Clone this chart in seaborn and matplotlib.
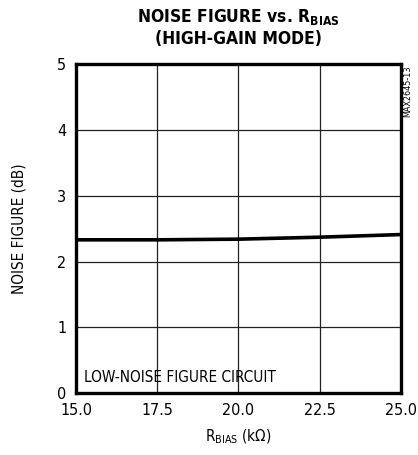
import matplotlib
matplotlib.use("Agg")
import matplotlib.pyplot as plt
import seaborn as sns
import pandas as pd

# Noise figure vs. bias resistor
r_bias = [15.0, 16.25, 17.5, 18.75, 20.0, 21.25, 22.5, 23.75, 25.0]
noise_fig = [2.33, 2.33, 2.33, 2.335, 2.34, 2.355, 2.37, 2.39, 2.41]
x_ticks = [15.0, 17.5, 20.0, 22.5, 25.0]
y_ticks = [0, 1, 2, 3, 4, 5]

sns.set_theme(style="white")
plt.rcParams["font.family"] = ["DejaVu Sans"]
plt.rcParams["font.stretch"] = "condensed"
plt.rcParams["mathtext.fontset"] = "custom"
plt.rcParams["mathtext.rm"] = "DejaVu Sans:stretch=condensed"
plt.rcParams["mathtext.bf"] = "DejaVu Sans:bold:stretch=condensed"
plt.rcParams["text.color"] = "black"
plt.rcParams["axes.labelcolor"] = "black"

df = pd.DataFrame({"rbias": r_bias, "nf": noise_fig})

fig = plt.figure(figsize=(4.18, 4.55), dpi=100)
ax = fig.add_axes([0.182, 0.136, 0.777, 0.723])

sns.lineplot(data=df, x="rbias", y="nf", ax=ax, color="black", linewidth=2.6)

ax.set_xlim(15, 25)
ax.set_ylim(0, 5)
ax.set_xticks(x_ticks)
ax.set_xticklabels([f"{v:.1f}" for v in x_ticks])
ax.set_yticks(y_ticks)
ax.tick_params(length=0, labelsize=11.5, colors="black", pad=7)
ax.grid(True, color="#222222", linewidth=0.9)
for s in ax.spines.values():
    s.set_linewidth(2.4)
    s.set_color("black")

ax.set_xlabel(r"R$_{\mathrm{BIAS}}$ (k$\Omega$)", fontsize=11, labelpad=7)
ax.set_ylabel("NOISE FIGURE (dB)", fontsize=11, labelpad=22)

ax.text(0.025, 0.025, "LOW-NOISE FIGURE CIRCUIT", transform=ax.transAxes,
        fontsize=11, ha="left", va="bottom")
fig.text(0.975, 0.855, "MAX2645-13", rotation=90, fontsize=6.5,
         ha="center", va="top")

fig.text(0.57, 0.985, r"NOISE FIGURE vs. R$_{\mathbf{BIAS}}$", fontsize=12.5,
         fontweight="bold", ha="center", va="top")
fig.text(0.57, 0.935, "(HIGH-GAIN MODE)", fontsize=12.5,
         fontweight="bold", ha="center", va="top")

fig.savefig("out.png", dpi=100)
